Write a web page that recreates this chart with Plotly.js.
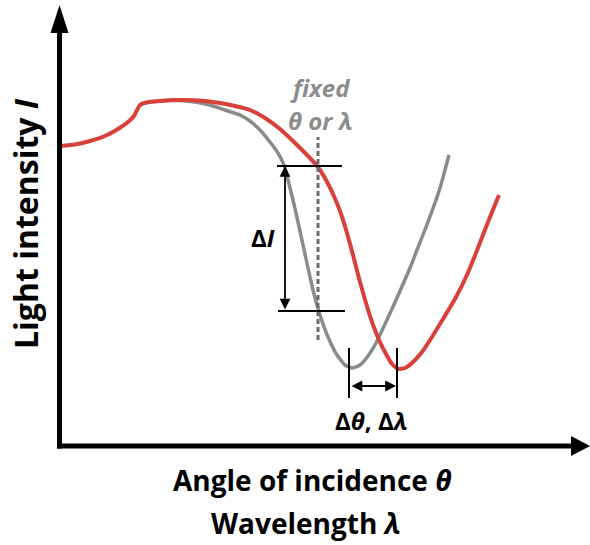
<!DOCTYPE html>
<html>
<head>
<meta charset="utf-8">
<script src="https://cdn.plot.ly/plotly-3.0.1.min.js"></script>
<style>html,body{margin:0;padding:0;background:#fff;} #chart{width:590px;height:545px;}</style>
</head>
<body>
<div id="chart"></div>
<script>
// Schematic SPR curves (arbitrary units: angle / wavelength vs. light intensity)
var refX = [0, 15, 30, 45, 58, 68, 74, 77, 80, 86, 100, 120, 140, 160, 175, 190, 205, 220, 235, 248, 258, 266, 273, 280, 287, 293, 300, 306, 312, 319, 326, 332, 338, 345, 353, 362, 372, 383, 395, 406, 416, 428, 439];
var refY = [300, 301.5, 305, 310, 317, 324, 330, 336, 341, 343.5, 345, 346, 345.5, 343, 340, 336, 328, 317, 303, 290, 279, 266, 252, 235, 213, 191, 164, 143, 124, 106, 92, 82, 77, 78, 84, 94, 109, 127, 147, 169, 193, 224, 251];

var baseX = [81, 90, 105, 120, 135, 150, 165, 180, 190, 200, 210, 218, 224, 228, 233, 238, 243, 248, 253, 260, 268, 277, 285, 292, 300, 308, 316, 326, 336, 350, 357, 368, 380, 389];
var baseY = [342, 344, 345.5, 345.5, 344, 341, 336, 331, 325, 316, 304, 293, 281, 266, 246, 224, 201, 178, 156, 131, 109, 91, 81, 78, 81, 90, 103, 124, 146, 178, 196, 224, 258, 291];

var fixedX = 258;                     // fixed angle / wavelength
var levelHigh = 280, levelLow = 135;  // intensity levels
var minBase = 289, minShift = 337;    // resonance minima positions

var yTitle = "Light intensity <i>I</i>";
var xTitle1 = "Angle of incidence <i>θ</i>";
var xTitle2 = "Wavelength <i>λ</i>";

var FONT = "'Open Sans', 'DejaVu Sans', sans-serif";

var traces = [
  {x: baseX, y: baseY, mode: "lines", line: {color: "#8a8a8a", width: 3.5, shape: "spline", smoothing: 0.5}, hoverinfo: "skip"},
  {x: refX, y: refY, mode: "lines", line: {color: "#d9403a", width: 4, shape: "spline", smoothing: 0.4}, hoverinfo: "skip"}
];

var shapes = [
  // axes
  {type: "line", x0: -0.5, x1: -0.5, y0: -2.5, y1: 415, line: {color: "#000", width: 5}},
  {type: "line", x0: -3, x1: 513, y0: 0, y1: 0, line: {color: "#000", width: 5}},
  {type: "path", path: "M -9.5 413 L -0.5 441 L 8.5 413 Z", fillcolor: "#000", line: {width: 0}},
  {type: "path", path: "M 511 -10 L 530 0 L 511 10 Z", fillcolor: "#000", line: {width: 0}},
  // fixed dashed line
  {type: "line", x0: fixedX, x1: fixedX, y0: 106, y1: 309, line: {color: "#6a6a6a", width: 3, dash: "5px,3px"}},
  // intensity levels
  {type: "line", x0: 217, x1: 282, y0: levelHigh, y1: levelHigh, line: {color: "#000", width: 2}},
  {type: "line", x0: 218, x1: 285, y0: levelLow, y1: levelLow, line: {color: "#000", width: 2}},
  // minima ticks
  {type: "line", x0: minBase, x1: minBase, y0: 48, y1: 98, line: {color: "#000", width: 2}},
  {type: "line", x0: minShift, x1: minShift, y0: 48, y1: 98, line: {color: "#000", width: 2}}
];

var annotations = [
  {x: 225, y: levelHigh, ax: 225, ay: levelLow, axref: "x", ayref: "y", xref: "x", yref: "y", text: "", showarrow: true, arrowside: "end+start", arrowhead: 2, arrowsize: 1.2, arrowwidth: 1.8, arrowcolor: "#000", standoff: 0, startstandoff: 0},
  {x: minShift - 1, y: 60, ax: minBase + 1, ay: 60, axref: "x", ayref: "y", xref: "x", yref: "y", text: "", showarrow: true, arrowside: "end+start", arrowhead: 2, arrowsize: 1.2, arrowwidth: 1.8, arrowcolor: "#000", standoff: 0, startstandoff: 0},
  {x: 260, y: 359, text: "<b><i>fixed</i></b>", showarrow: false, font: {family: FONT, size: 24, color: "#8c8c8c"}},
  {x: 260, y: 326, text: "<b><i>θ or λ</i></b>", showarrow: false, font: {family: FONT, size: 24, color: "#8c8c8c"}},
  {x: 203, y: 209, text: "<b>Δ<i>I</i></b>", showarrow: false, font: {family: FONT, size: 24, color: "#000"}},
  {x: 311, y: 26, text: "<b>Δ<i>θ</i>, Δ<i>λ</i></b>", showarrow: false, font: {family: FONT, size: 24, color: "#000"}},
  {x: -35, y: 222, text: "<b>" + yTitle + "</b>", textangle: -90, showarrow: false, font: {family: FONT, size: 32, color: "#000"}},
  {x: 252, y: -34, text: "<b>" + xTitle1 + "</b>", showarrow: false, font: {family: FONT, size: 28, color: "#000"}},
  {x: 246, y: -77, text: "<b>" + xTitle2 + "</b>", showarrow: false, font: {family: FONT, size: 28, color: "#000"}}
];

var layout = {
  width: 590, height: 545,
  margin: {l: 0, r: 0, t: 0, b: 0},
  paper_bgcolor: "#fff", plot_bgcolor: "#fff",
  showlegend: false, hovermode: false,
  xaxis: {range: [-60, 530], visible: false, fixedrange: true},
  yaxis: {range: [-99, 446], visible: false, fixedrange: true},
  shapes: shapes,
  annotations: annotations,
  font: {family: FONT}
};

Plotly.newPlot("chart", traces, layout, {staticPlot: true, displayModeBar: false});
</script>
</body>
</html>
